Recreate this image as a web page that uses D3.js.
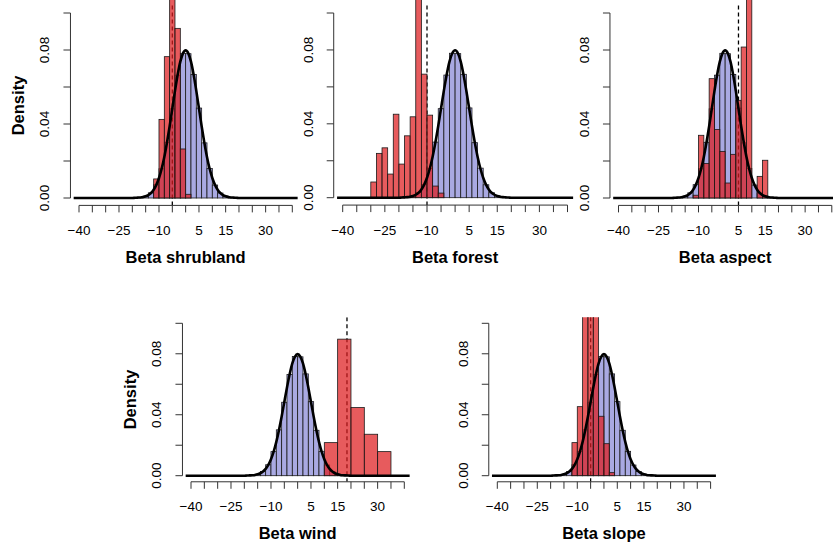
<!DOCTYPE html>
<html><head><meta charset="utf-8">
<script src="https://cdn.jsdelivr.net/npm/d3@7"></script>
<style>
body{margin:0;background:#fff}
svg text{font-family:"Liberation Sans",Arial,Helvetica,sans-serif;fill:#000}
</style>
</head><body>
<svg id="chart" width="833" height="544"></svg>
<script>
// ---------------- data ----------------
const panelTitles = ["Beta shrubland", "Beta forest", "Beta aspect", "Beta wind", "Beta slope"];
const xTicks = [-40, -35, -30, -25, -20, -15, -10, -5, 0, 5, 10, 15, 20, 25, 30, 35, 40];
const xTickLabels = [-40, -25, -10, 5, 15, 30];
const yTicks = [0, 0.02, 0.04, 0.06, 0.08, 0.10];
const yTickLabels = [0, 0.04, 0.08];

// prior sample histogram (bin width 2)
const priorBinStart = [-18, -16, -14, -12, -10, -8, -6, -4, -2, 0, 2, 4, 6, 8, 10, 12, 14, 16];
const priorDensity = [0.0003, 0.0009, 0.0028, 0.0072, 0.0158, 0.0301, 0.0482, 0.0664, 0.0782,
                      0.0780, 0.0668, 0.0486, 0.0298, 0.0160, 0.0070, 0.0027, 0.0010, 0.0003];

// prior density curve
const curveX = [-42, -20, -19, -18, -17, -16, -15, -14, -13, -12, -11, -10, -9, -8, -7, -6, -5, -4, -3, -2, -1, 0,
                1, 2, 3, 4, 5, 6, 7, 8, 9, 10, 11, 12, 13, 14, 15, 16, 17, 18, 19, 20, 42];
const curveY = [0, 0.0000, 0.0001, 0.0002, 0.0003, 0.0005, 0.0009, 0.0016, 0.0027, 0.0045, 0.0071, 0.0108, 0.0158,
                0.0222, 0.0300, 0.0388, 0.0484, 0.0579, 0.0666, 0.0737, 0.0782, 0.0798,
                0.0782, 0.0737, 0.0666, 0.0579, 0.0484, 0.0388, 0.0300, 0.0222, 0.0158, 0.0108, 0.0071,
                0.0045, 0.0027, 0.0016, 0.0009, 0.0005, 0.0003, 0.0002, 0.0001, 0.0000, 0];

// posterior histograms
const shrublandStart = [-12, -10, -8, -6, -4, -2, 0];
const shrublandDensity = [0.0103, 0.0425, 0.0764, 0.2506, 0.0917, 0.0265, 0.0020];
const forestStart = [-30, -28, -26, -24, -22, -20, -18, -16, -14, -12, -10, -8, -6];
const forestDensity = [0.0085, 0.0240, 0.0270, 0.0128, 0.0452, 0.0182, 0.0335, 0.0438, 0.1670, 0.0669, 0.0447, 0.0063, 0.0025];
const aspectStart = [-12, -10, -8, -6, -4, -2, 0, 2, 4, 6, 8, 10, 12, 14];
const aspectDensity = [0.0015, 0.0339, 0.0186, 0.0645, 0.0370, 0.0252, 0.0081, 0.0236, 0.0528, 0.0816, 0.1210, 0, 0.0117, 0.0204];
const windStart = [10, 15, 20, 25, 30];
const windDensity = [0.0217, 0.0896, 0.0447, 0.0272, 0.0158];
const slopeStart = [-12, -10, -8, -6, -4, -2, 0, 2];
const slopeDensity = [0.0217, 0.0453, 0.1100, 0.1500, 0.1110, 0.0390, 0.0210, 0.0020];

const posteriorStarts = [shrublandStart, forestStart, aspectStart, windStart, slopeStart];
const posteriorDensities = [shrublandDensity, forestDensity, aspectDensity, windDensity, slopeDensity];
const posteriorBinWidths = [2, 2, 2, 5, 2];
const referenceValues = [-5, -10, 5, 18.5, -5];

// ---------------- layout ----------------
const layout = [
  {xa: 79,    xb: 292.3, y0: 198,   y1: 13,    top: true,  ylab: true},
  {xa: 342.7, xb: 567.5, y0: 197.7, y1: 13,    top: true,  ylab: false},
  {xa: 618.5, xb: 831.8, y0: 198,   y1: 13,    top: true,  ylab: false},
  {xa: 191,   xb: 404.3, y0: 475.7, y1: 323.3, top: false, ylab: true},
  {xa: 497.3, xb: 710.6, y0: 475.7, y1: 323.3, top: false, ylab: false}
];

const svg = d3.select("#chart");
svg.append("rect").attr("width", 833).attr("height", 544).attr("fill", "#fff");

const blueFill = "#a9a9e2";
const redFill = "rgba(222,28,30,0.72)";
const fmt = d3.format(".2f");

layout.forEach((L, i) => {
  const x = d3.scaleLinear().domain([-40, 40]).range([L.xa, L.xb]);
  const y = d3.scaleLinear().domain([0, 0.10]).range([L.y0, L.y1]);
  const left = x(-43.2), right = x(43.2), bottom = y(-0.004), top = y(0.104);
  const g = svg.append("g");

  const clipId = "clip" + i;
  const clipTop = L.top ? -5 : top;
  g.append("clipPath").attr("id", clipId).append("rect")
    .attr("x", left).attr("y", clipTop).attr("width", right - left).attr("height", bottom - clipTop);
  const plot = g.append("g").attr("clip-path", `url(#${clipId})`);

  // prior histogram
  plot.selectAll("rect.prior").data(priorBinStart.map((s, k) => ({s, d: priorDensity[k]})))
    .join("rect").attr("class", "prior")
    .attr("x", d => x(d.s)).attr("width", d => x(d.s + 2) - x(d.s))
    .attr("y", d => y(d.d)).attr("height", d => y(0) - y(d.d))
    .attr("fill", blueFill).attr("stroke", "#1a1a1a").attr("stroke-width", 0.8);

  // reference line
  plot.append("line")
    .attr("x1", x(referenceValues[i])).attr("x2", x(referenceValues[i]))
    .attr("y1", top).attr("y2", bottom)
    .attr("stroke", "#000").attr("stroke-width", 1.3).attr("stroke-dasharray", "4,3");

  // posterior histogram
  const w = posteriorBinWidths[i];
  plot.selectAll("rect.post").data(posteriorStarts[i].map((s, k) => ({s, d: posteriorDensities[i][k]})))
    .join("rect").attr("class", "post")
    .attr("x", d => x(d.s)).attr("width", d => x(d.s + w) - x(d.s))
    .attr("y", d => y(d.d)).attr("height", d => y(0) - y(d.d))
    .attr("fill", redFill).attr("stroke", "#1a1a1a").attr("stroke-width", 0.8);

  // prior curve
  const line = d3.line().x(d => x(d[0])).y(d => y(d[1])).curve(d3.curveMonotoneX);
  plot.append("path").datum(curveX.map((v, k) => [v, curveY[k]]))
    .attr("d", line).attr("fill", "none").attr("stroke", "#000").attr("stroke-width", 2.6)
    .attr("stroke-linejoin", "round");

  // y axis
  const ya = g.append("g").attr("transform", `translate(${left},0)`);
  ya.append("line").attr("x1", 0).attr("x2", 0).attr("y1", y(0)).attr("y2", y(0.10))
    .attr("stroke", "#333").attr("stroke-width", 1);
  ya.selectAll("line.t").data(yTicks).join("line").attr("class", "t")
    .attr("x1", 0).attr("x2", -7).attr("y1", d => y(d)).attr("y2", d => y(d))
    .attr("stroke", "#333").attr("stroke-width", 1);
  ya.selectAll("text").data(yTickLabels).join("text")
    .attr("transform", d => `translate(-21,${y(d)}) rotate(-90)`)
    .attr("text-anchor", "middle").attr("font-size", 13.5).text(d => fmt(d));

  // x axis
  const xa = g.append("g").attr("transform", `translate(0,${bottom})`);
  xa.append("line").attr("x1", x(-40)).attr("x2", x(40)).attr("y1", 0).attr("y2", 0)
    .attr("stroke", "#333").attr("stroke-width", 1);
  xa.selectAll("line.t").data(xTicks).join("line").attr("class", "t")
    .attr("x1", d => x(d)).attr("x2", d => x(d)).attr("y1", 0).attr("y2", 7)
    .attr("stroke", "#333").attr("stroke-width", 1);
  xa.selectAll("text").data(xTickLabels).join("text")
    .attr("x", d => x(d)).attr("y", 29.5).attr("text-anchor", "middle").attr("font-size", 13.5)
    .text(d => (d < 0 ? "\u2212" + Math.abs(d) : String(d)));

  // title
  g.append("text").attr("x", (left + right) / 2).attr("y", bottom + 57.5)
    .attr("text-anchor", "middle").attr("font-size", 16.5).attr("font-weight", "bold")
    .text(panelTitles[i]);

  if (L.ylab) {
    g.append("text").attr("transform", `translate(${left - 46},${(top + bottom) / 2}) rotate(-90)`)
      .attr("text-anchor", "middle").attr("font-size", 16.5).attr("font-weight", "bold").text("Density");
  }
});
</script>
</body></html>
